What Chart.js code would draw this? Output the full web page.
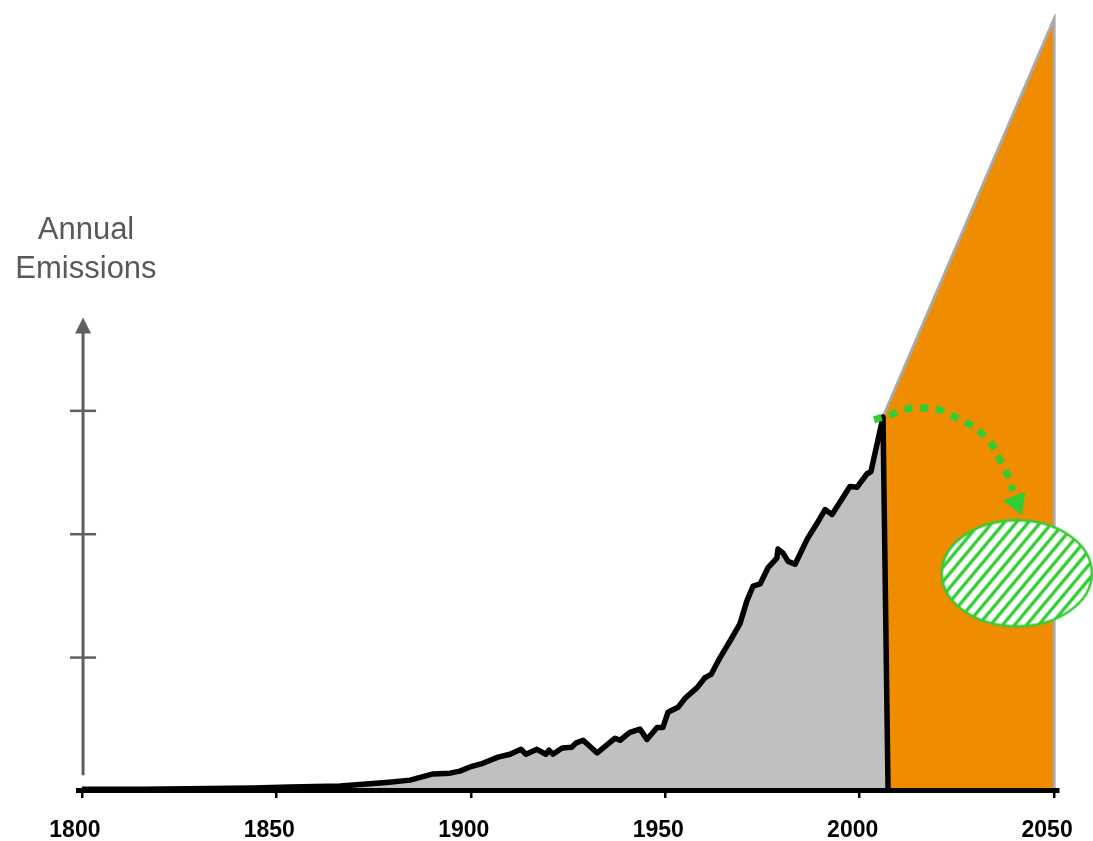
<!DOCTYPE html>
<html lang="en">
<head>
  <meta charset="UTF-8">
  <title>Annual Emissions</title>
  <style>
    body { margin: 0; background: #fff; }
    #wrap { position: relative; width: 1093px; height: 841px; }
    #ylabel {
      position: absolute; left: 0; top: 209px; width: 172px;
      text-align: center; color: #595959;
      font: 31px/39px "Liberation Sans", Arial, sans-serif;
    }
  </style>
</head>
<body>

<div id="wrap">
  <canvas id="chart" width="1093" height="841"></canvas>
  <div id="ylabel">Annual<br>Emissions</div>
</div>

<script src="https://cdn.jsdelivr.net/npm/chart.js"></script>
<script>
  // historical emissions (arbitrary units)
  const histYears = [1800, 1815.7, 1844, 1853.5, 1866.4, 1874, 1879, 1884.4, 1890.3, 1894.7,
    1897.2, 1899.8, 1903.1, 1907, 1910.1, 1912.9, 1914.2, 1917, 1919.3, 1920.1,
    1921.1, 1923.5, 1926, 1927, 1928.9, 1932.5, 1934, 1937.1, 1938.4, 1940.9,
    1943.5, 1945.3, 1947.9, 1949.4, 1950.7, 1953.3, 1955.1, 1958.2, 1960.2, 1961.8,
    1964.1, 1966.7, 1969.2, 1971, 1972.6, 1974.4, 1976.4, 1978.7, 1979, 1980.3,
    1981.6, 1983.4, 1986.5, 1989, 1991.1, 1992.9, 1997.5, 1999.3, 2001.9, 2002.9,
    2006, 2007.3];
  const histValues = [0.02, 0.02, 0.05, 0.07, 0.1, 0.15, 0.19, 0.24, 0.39, 0.41,
    0.46, 0.56, 0.65, 0.80, 0.87, 0.99, 0.87, 0.99, 0.87, 0.97,
    0.87, 1.02, 1.04, 1.14, 1.21, 0.90, 1.02, 1.26, 1.21, 1.40,
    1.48, 1.23, 1.52, 1.52, 1.89, 2.01, 2.23, 2.49, 2.73, 2.81,
    3.22, 3.63, 4.04, 4.60, 4.96, 5.01, 5.40, 5.64, 5.86, 5.76,
    5.56, 5.49, 6.10, 6.48, 6.82, 6.70, 7.38, 7.36, 7.69, 7.74,
    9.07, 0];

  // business-as-usual projection wedge
  const projYears = [2006, 2050, 2050];
  const projValues = [9.07, 18.75, 0];

  // green dotted arrow and the hatched target
  const arrowYears = [2003.7, 2008.6, 2012.4, 2016.3, 2020.7, 2024.5, 2028.4, 2031.5, 2034, 2036.1, 2037.9, 2039.4];
  const arrowValues = [9.0, 9.15, 9.27, 9.29, 9.24, 9.07, 8.88, 8.66, 8.40, 8.03, 7.69, 7.28];
  const headYears = [2040.4];
  const headValues = [6.99];
  const targetYears = [2040.4];
  const targetValues = [5.27];

  const xTicks = [1800, 1850, 1900, 1950, 2000, 2050];
  const yTicks = [3.22, 6.22, 9.22];      // marks on the grey arrow axis
  const axisYear = 1800.3;
  const axisRange = [0.36, 11.49];

  const pts = (xs, ys) => xs.map((x, i) => ({ x: x, y: ys[i] }));
  const green = '#33cc33';

  // hatched ellipse used as a point image
  function hatchedEllipse() {
    const c = document.createElement('canvas');
    c.width = 154; c.height = 110;
    const g = c.getContext('2d');
    g.beginPath();
    g.ellipse(77, 55, 75, 53, 0, 0, Math.PI * 2);
    g.fillStyle = '#fff';
    g.fill();
    g.save();
    g.clip();
    g.strokeStyle = green;
    g.lineWidth = 3.3;
    for (let k = -120; k < 280; k += 12) {
      g.beginPath();
      g.moveTo(k, 110);
      g.lineTo(k + 92, 0);
      g.stroke();
    }
    g.restore();
    g.beginPath();
    g.ellipse(77, 55, 75, 53, 0, 0, Math.PI * 2);
    g.strokeStyle = green;
    g.lineWidth = 2.5;
    g.stroke();
    return c;
  }

  // grey vertical arrow with three marks
  const arrowAxis = {
    id: 'arrowAxis',
    afterDatasetsDraw(chart) {
      const { ctx, scales: { x, y } } = chart;
      const px = x.getPixelForValue(axisYear);
      const bottom = y.getPixelForValue(axisRange[0]);
      const top = y.getPixelForValue(axisRange[1]);
      ctx.save();
      ctx.strokeStyle = '#5f5f5f';
      ctx.fillStyle = '#5f5f5f';
      ctx.lineWidth = 3;
      ctx.beginPath();
      ctx.moveTo(px, bottom);
      ctx.lineTo(px, top + 14);
      ctx.stroke();
      ctx.beginPath();
      ctx.moveTo(px, top);
      ctx.lineTo(px - 8, top + 16);
      ctx.lineTo(px + 8, top + 16);
      ctx.closePath();
      ctx.fill();
      ctx.lineWidth = 2.5;
      yTicks.forEach(v => {
        const py = y.getPixelForValue(v);
        ctx.beginPath();
        ctx.moveTo(px - 13, py);
        ctx.lineTo(px + 13, py);
        ctx.stroke();
      });
      ctx.restore();
    }
  };

  const ctx = document.getElementById('chart').getContext('2d');
  new Chart(ctx, {
    type: 'line',
    data: {
      datasets: [
        {
          data: pts(projYears, projValues),
          order: 3,
          borderColor: '#a9a9a9',
          borderWidth: 3,
          backgroundColor: '#ef8c00',
          fill: 'origin',
          pointRadius: 0,
          tension: 0
        },
        {
          data: pts(histYears, histValues),
          order: 2,
          borderColor: '#000',
          borderWidth: 5.5,
          borderJoinStyle: 'round',
          backgroundColor: '#c0c0c0',
          fill: 'origin',
          pointRadius: 0,
          tension: 0
        },
        {
          data: pts(targetYears, targetValues),
          order: 1,
          showLine: false,
          clip: false,
          pointStyle: hatchedEllipse(),
          pointRadius: 5
        },
        {
          data: pts(arrowYears, arrowValues),
          order: 0,
          borderColor: green,
          borderWidth: 7,
          borderDash: [8, 8],
          borderCapStyle: 'butt',
          fill: false,
          pointRadius: 0,
          tension: 0.4
        },
        {
          data: pts(headYears, headValues),
          order: 0,
          showLine: false,
          clip: false,
          pointStyle: 'triangle',
          pointRadius: 14,
          pointRotation: 158,
          pointBackgroundColor: green,
          pointBorderColor: green,
          pointBorderWidth: 0
        }
      ]
    },
    options: {
      responsive: false,
      animation: false,
      events: [],
      layout: { padding: { left: 78, right: 35, top: 10, bottom: 0 } },
      plugins: { legend: { display: false }, tooltip: { enabled: false } },
      scales: {
        x: {
          type: 'linear',
          min: 1799,
          max: 2051,
          afterBuildTicks: s => { s.ticks = xTicks.map(v => ({ value: v })); },
          afterFit: s => { s.height = 51; s.paddingLeft = 0; s.paddingRight = 0; },
          border: { color: '#000', width: 5, z: 1 },
          grid: { drawOnChartArea: false, drawTicks: true, tickLength: 8, color: '#000', lineWidth: 2.5 },
          ticks: {
            color: '#000',
            font: { family: '"Liberation Sans", Arial, sans-serif', size: 23, weight: 'bold' },
            padding: 19,
            labelOffset: -7,
            maxRotation: 0,
            autoSkip: false,
            callback: v => String(v)
          }
        },
        y: {
          display: false,
          min: 0,
          max: 18.87
        }
      }
    },
    plugins: [arrowAxis]
  });
</script>

</body>
</html>
